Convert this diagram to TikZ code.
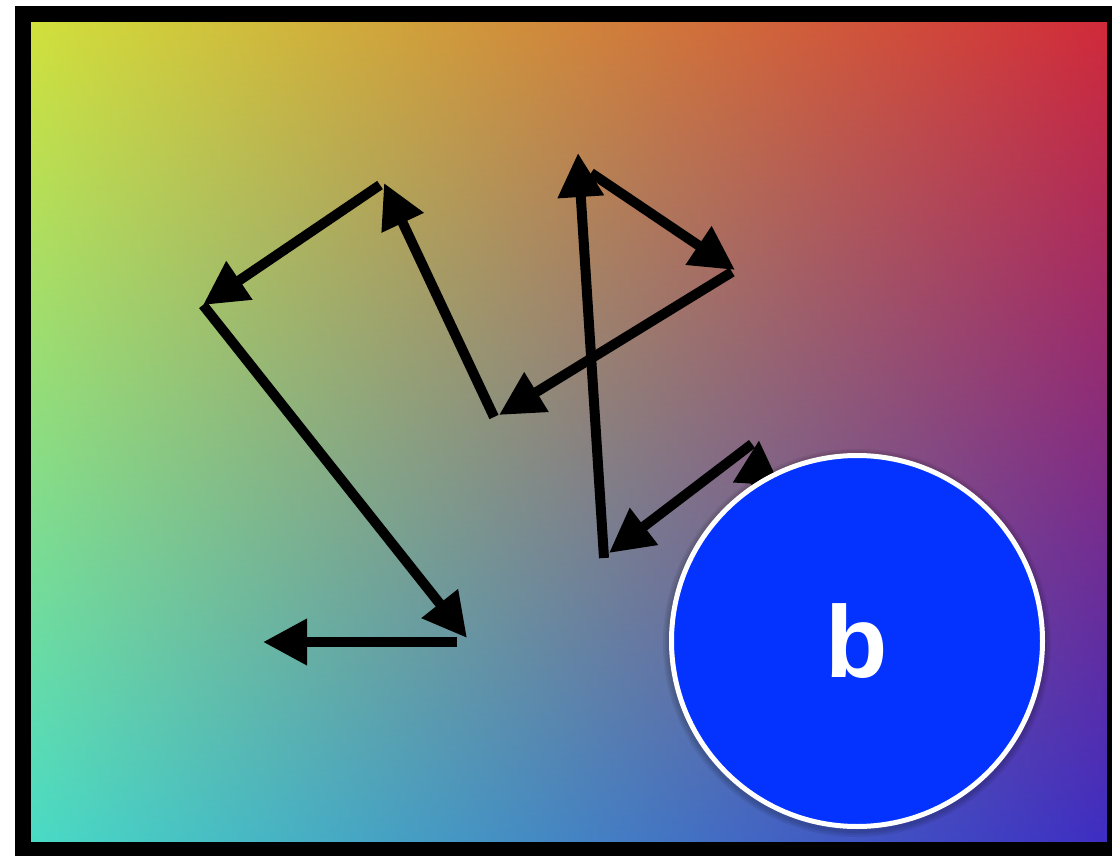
\documentclass[tikz,border=0pt]{standalone}
\usepackage{fontspec}
\newfontfamily\labelfont{Liberation Sans}
\usetikzlibrary{arrows.meta,shadings}
\definecolor{cTL}{HTML}{D2E23A}
\definecolor{cTR}{HTML}{D22838}
\definecolor{cBL}{HTML}{48DCC6}
\definecolor{cBR}{HTML}{3C2CC4}
\definecolor{circblue}{HTML}{0433FF}
\tikzset{
  link/.style={draw=black, line width=10pt, -{Triangle[length=44pt,width=44pt]}},
  bignode/.style={circle, minimum size=371pt, inner sep=0pt, fill=circblue, draw=white, line width=5pt, text=white, font=\labelfont\bfseries\fontsize{102}{102}\selectfont},
  glow/.style={fill=black, opacity=0.07}
}
\begin{document}
\begin{tikzpicture}[x=1pt,y=-1pt]
\useasboundingbox (0,0) rectangle (1112,856);
\clip (0,0) rectangle (1112,856);
\fill[white] (0,0) rectangle (1112,856);
% gradient panel
\shade[upper left=cTL, upper right=cTR, lower left=cBL, lower right=cBR] (23,14) rectangle (1115,850);
\draw[line width=16pt, black] (23,14) rectangle (1115,850);
% points
\coordinate (A) at (380,185);
\coordinate (B) at (203,305);
\coordinate (C) at (467,638);
\coordinate (D) at (457,642);
\coordinate (E) at (263,642);
\coordinate (F) at (494,417);
\coordinate (G) at (384,183);
\coordinate (H) at (732,272);
\coordinate (I) at (499,415);
\coordinate (J) at (591,173);
\coordinate (K) at (735,270);
\coordinate (L) at (604,558);
\coordinate (M) at (578,153);
\coordinate (N) at (752,444);
\coordinate (O) at (609,553);
\coordinate (P) at (748,620);
\coordinate (Q) at (759,440);
% connectors
\draw[link] (A) -- (B);
\draw[link] (B) -- (C);
\draw[link] (D) -- (E);
\draw[link] (F) -- (G);
\draw[link] (H) -- (I);
\draw[link] (J) -- (K);
\draw[link] (L) -- (M);
\draw[link] (N) -- (O);
\draw[link] (P) -- (Q);
% soft shadow
\fill[glow] (857,643) circle (194pt);
\fill[glow] (857,643) circle (192pt);
\fill[glow] (857,643) circle (190pt);
\node[bignode] (b) at (857,641) {b};
\end{tikzpicture}
\end{document}
